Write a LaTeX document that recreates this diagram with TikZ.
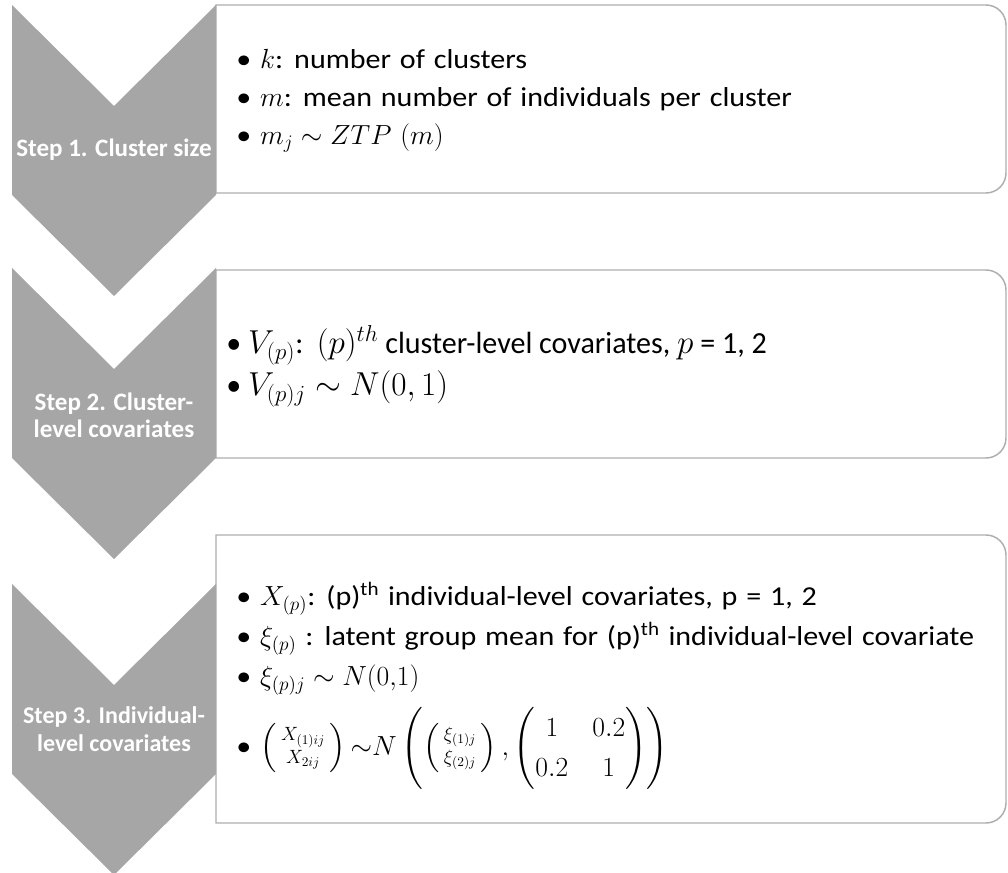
\documentclass[tikz,border=0pt]{standalone}
\usepackage{amsmath}
\usepackage{amssymb}
\usepackage{fontspec}
\setmainfont{Carlito}
\newfontfamily\stwidefont{Carlito}[FakeStretch=1.1,WordSpace=1.3]
\newfontfamily\stnarrowfont{Carlito}[FakeStretch=0.98]
\usepackage{tikz}
\definecolor{stfill}{HTML}{A6A6A6}
\definecolor{stline}{HTML}{AEAEAE}
\newcommand{\stepchevron}[1]{%
  \fill[stfill] (12,#1) -- ++(102,101) -- ++(102,-101) -- ++(0,190)
    -- ++(-102,101) -- ++(-102,-101) -- cycle;}
\newcommand{\stepframe}[2]{%
  \draw[stframe] (216,#2) -- (216,#1) [rounded corners=15pt] -- (1006,#1)
    -- (1006,#2) [sharp corners] -- cycle;}
\tikzset{
  stframe/.style={draw=stline, line width=1.1pt, fill=white},
  stlabel/.style={text=white, font=\bfseries\fontsize{18.8}{20}\selectfont,
                  align=center, inner sep=0pt},
  stitems/.style={anchor=west, align=left, inner sep=0pt,
                  font=\stwidefont\fontsize{20.5}{28.5}\selectfont},
}

\begin{document}
\begin{tikzpicture}[x=0.75pt,y=-0.75pt]
  \useasboundingbox (0,0) rectangle (1008,873);
  \stepframe{5}{193}
  \stepframe{270}{458}
  \stepframe{535}{823}
  \stepchevron{5}
  \stepchevron{268}
  \stepchevron{584}

  \node[stlabel] (l1) at (114,150) {Step 1. Cluster size};
  \node[stlabel] (l2) at (114,415) {Step 2. Cluster-\\level covariates};
  \node[stlabel,font=\bfseries\fontsize{18}{21}\selectfont] (l3) at (114,729)
    {Step 3. Individual-\\level covariates};

  \node[stitems] (t1) at (236,101) {%
    \textbullet\ $k$: number of clusters\\
    \textbullet\ $m$: mean number of individuals per cluster\\
    \textbullet\ $m_j \sim ZTP\ (m)$};
  \node[stitems,font=\stnarrowfont\fontsize{23}{31.5}\selectfont] (t2) at (226,366) {%
    \textbullet\ $V_{(p)}$:\ \ $(p)^{th}$ cluster-level covariates, $p$ = 1, 2\\
    \textbullet\ $V_{(p)j} \sim N(0,1)$};
  \node[stitems,font=\stwidefont\fontsize{20.5}{30}\selectfont] (t3) at (236,686) {%
    \textbullet\ $X_{(p)}$: (p)\textsuperscript{th} individual-level covariates, p = 1, 2\\
    \textbullet\ $\xi_{(p)}$ : latent group mean for (p)\textsuperscript{th} individual-level covariate\\
    \textbullet\ $\xi_{(p)j} \sim N(0{,}1)$\\[8pt]
    \textbullet\ $\left(\begin{smallmatrix} X_{(1)ij}\\ X_{2ij}\end{smallmatrix}\right)
      {\sim}N\left(\left(\begin{smallmatrix}\xi_{(1)j}\\ \xi_{(2)j}\end{smallmatrix}\right),
      \setlength{\arraycolsep}{9pt}\begin{pmatrix}1 & 0.2\\ 0.2 & 1\end{pmatrix}\right)$};
\end{tikzpicture}
\end{document}
